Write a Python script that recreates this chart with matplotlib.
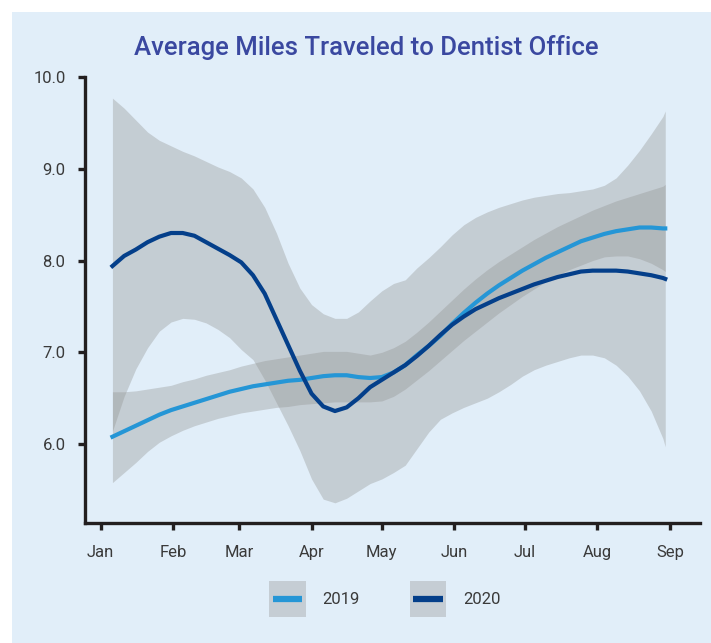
import numpy as np
import pandas as pd
import matplotlib
matplotlib.use("Agg")
import matplotlib.pyplot as plt
import matplotlib.dates as mdates
from matplotlib.patches import Rectangle
from matplotlib.lines import Line2D
from matplotlib.legend_handler import HandlerBase

plt.rcParams['font.family'] = ['Roboto', 'DejaVu Sans']

# days after Jan 1
days = [5, 10, 15, 20, 25, 30, 35, 40, 45, 50, 55, 60, 65, 70, 75, 80, 85, 90, 95, 100,
        105, 110, 115, 120, 125, 130, 135, 140, 145, 150, 155, 160, 165, 170, 175, 180,
        185, 190, 195, 200, 205, 210, 215, 220, 225, 230, 235, 240, 241]

mean_2019 = [6.08, 6.14, 6.20, 6.26, 6.32, 6.37, 6.41, 6.45, 6.49, 6.53, 6.57, 6.60, 6.63,
             6.65, 6.67, 6.69, 6.70, 6.72, 6.74, 6.75, 6.75, 6.73, 6.72, 6.73, 6.78, 6.86,
             6.97, 7.07, 7.18, 7.31, 7.43, 7.54, 7.64, 7.73, 7.81, 7.89, 7.96, 8.03, 8.09,
             8.15, 8.21, 8.25, 8.29, 8.32, 8.34, 8.36, 8.36, 8.35, 8.35]
low_2019 = [5.58, 5.69, 5.80, 5.92, 6.02, 6.09, 6.15, 6.20, 6.24, 6.28, 6.31, 6.34, 6.36,
            6.38, 6.40, 6.41, 6.43, 6.44, 6.45, 6.46, 6.46, 6.46, 6.46, 6.47, 6.52, 6.60,
            6.70, 6.80, 6.91, 7.02, 7.13, 7.23, 7.33, 7.43, 7.52, 7.61, 7.69, 7.77, 7.84,
            7.90, 7.95, 8.00, 8.04, 8.05, 8.05, 8.02, 7.97, 7.90, 7.88]
high_2019 = [6.57, 6.57, 6.58, 6.60, 6.62, 6.64, 6.68, 6.71, 6.75, 6.78, 6.81, 6.85, 6.88,
             6.91, 6.93, 6.95, 6.97, 6.99, 7.01, 7.01, 7.01, 6.99, 6.97, 7.00, 7.05, 7.12,
             7.22, 7.33, 7.45, 7.57, 7.69, 7.80, 7.90, 7.99, 8.07, 8.15, 8.23, 8.30, 8.37,
             8.43, 8.49, 8.55, 8.60, 8.65, 8.69, 8.73, 8.77, 8.81, 8.83]

mean_2020 = [7.94, 8.05, 8.12, 8.20, 8.26, 8.30, 8.30, 8.27, 8.20, 8.13, 8.06, 7.98, 7.84,
             7.64, 7.36, 7.08, 6.80, 6.55, 6.41, 6.36, 6.40, 6.50, 6.62, 6.70, 6.78, 6.86,
             6.96, 7.07, 7.19, 7.30, 7.39, 7.47, 7.53, 7.59, 7.64, 7.69, 7.74, 7.78, 7.82,
             7.85, 7.88, 7.89, 7.89, 7.89, 7.88, 7.86, 7.84, 7.81, 7.80]
low_2020 = [6.14, 6.52, 6.82, 7.05, 7.23, 7.33, 7.37, 7.36, 7.32, 7.25, 7.16, 7.03, 6.92,
            6.70, 6.45, 6.20, 5.93, 5.62, 5.40, 5.36, 5.41, 5.49, 5.57, 5.62, 5.69, 5.77,
            5.95, 6.13, 6.27, 6.34, 6.40, 6.45, 6.50, 6.57, 6.65, 6.74, 6.81, 6.86, 6.90,
            6.94, 6.97, 6.97, 6.94, 6.86, 6.74, 6.58, 6.36, 6.06, 5.97]
high_2020 = [9.77, 9.66, 9.53, 9.40, 9.31, 9.25, 9.19, 9.14, 9.08, 9.02, 8.97, 8.90, 8.78,
             8.58, 8.30, 7.97, 7.70, 7.52, 7.42, 7.37, 7.37, 7.44, 7.56, 7.67, 7.75, 7.79,
             7.92, 8.03, 8.15, 8.28, 8.39, 8.47, 8.53, 8.58, 8.62, 8.66, 8.69, 8.71, 8.73,
             8.74, 8.76, 8.78, 8.82, 8.90, 9.04, 9.20, 9.38, 9.57, 9.63]

yticks = [6.0, 7.0, 8.0, 9.0, 10.0]

dates = pd.Timestamp("2019-01-01") + pd.to_timedelta(days, unit="D")

bg = "#E1EEF9"
band = "#929391"
box = "#C5CDD4"
c19 = "#2596D6"
c20 = "#043F8A"
ink = "#231F20"


class BoxLine(HandlerBase):
    def create_artists(self, legend, orig, xd, yd, width, height, fontsize, trans):
        r = Rectangle((-xd, -yd), width, height, facecolor=box, edgecolor="none", transform=trans)
        ln = Line2D([-xd + 0.1 * width, -xd + 0.9 * width], [-yd + height / 2] * 2,
                    color=orig.get_color(), lw=4.5, solid_capstyle="butt", transform=trans)
        return [r, ln]


fig = plt.figure(figsize=(7.11, 6.43), dpi=100, facecolor="white")
fig.patches.append(Rectangle((12 / 711, 0), 1, 1 - 12 / 643, transform=fig.transFigure,
                             facecolor=bg, edgecolor="none", zorder=-5))

ax = fig.add_axes([85 / 711, 1 - 523 / 643, 615 / 711, 446 / 643])
ax.set_facecolor(bg)

ax.fill_between(dates, low_2019, high_2019, color=band, alpha=0.36, lw=0)
ax.fill_between(dates, low_2020, high_2020, color=band, alpha=0.36, lw=0)
l19, = ax.plot(dates, mean_2019, color=c19, lw=3)
l20, = ax.plot(dates, mean_2020, color=c20, lw=3)

ax.set_ylim(5.14, 10.0)
ax.set_xlim(pd.Timestamp("2018-12-25 07:00"), pd.Timestamp("2019-09-13 20:00"))
ax.set_yticks(yticks)
ax.set_yticklabels([f"{v:.1f}" for v in yticks])
ax.xaxis.set_major_locator(mdates.MonthLocator())
ax.xaxis.set_major_formatter(mdates.DateFormatter("%b"))

for s in ["top", "right"]:
    ax.spines[s].set_visible(False)
for s in ["left", "bottom"]:
    ax.spines[s].set_linewidth(2.4)
    ax.spines[s].set_color(ink)
ax.tick_params(axis="both", direction="out", length=5, width=2.4, color=ink,
               labelsize=12, labelcolor="#3A3A3A")
ax.tick_params(axis="x", pad=11)
ax.tick_params(axis="y", pad=9)

fig.text(0.515, 1 - 47 / 643, "Average Miles Traveled to Dentist Office", ha="center",
         va="center", fontsize=18.5, color="#3A48A0", fontweight="medium")

leg = fig.legend([l19, l20], ["2019", "2020"], loc="center", bbox_to_anchor=(0.541, 1 - 599 / 643),
                 ncol=2, frameon=False, fontsize=12, handlelength=2.2, handleheight=2.9,
                 handletextpad=1.0, columnspacing=3.0,
                 handler_map={Line2D: BoxLine()})
for t in leg.get_texts():
    t.set_color("#3A3A3A")

fig.savefig("out.png", dpi=100, facecolor="white")
